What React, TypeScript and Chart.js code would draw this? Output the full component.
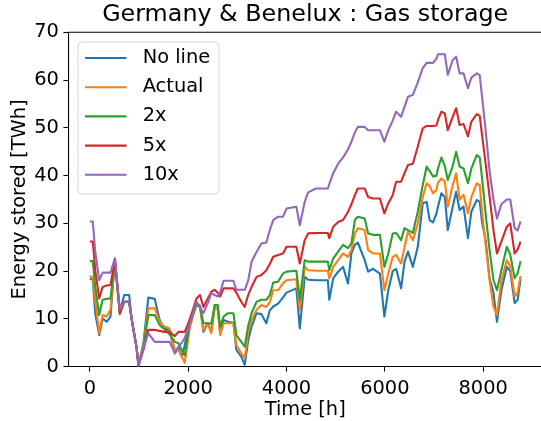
import React, { useEffect, useRef } from 'react';
import { Chart, registerables } from 'chart.js';

Chart.register(...registerables);

const chartTitle = 'Germany & Benelux : Gas storage';
const xAxisLabel = 'Time [h]';
const yAxisLabel = 'Energy stored [TWh]';
const seriesNames = ['No line', 'Actual', '2x', '5x', '10x'];
const seriesColors = ['#1f77b4', '#ff7f0e', '#2ca02c', '#d62728', '#9467bd'];
const xTickValues = [0, 2000, 4000, 6000, 8000];
const yTickValues = [0, 10, 20, 30, 40, 50, 60, 70];

const hours = [
  0, 60, 110, 190, 260, 340, 420, 510, 610, 700,
  800, 850, 950, 990, 1090, 1190, 1320, 1420, 1500, 1620,
  1730, 1800, 1870, 1930, 2030, 2170, 2240, 2310, 2400, 2470,
  2540, 2600, 2650, 2720, 2810, 2920, 2980,
  3080, 3150, 3220, 3290, 3390, 3490, 3590, 3660, 3730, 3830,
  3930, 4000, 4200, 4270, 4370, 4440, 4600, 4840, 4870, 4950,
  5050, 5150, 5250, 5320, 5390, 5450, 5590, 5660, 5760, 5900,
  5990,
  6070, 6160, 6230, 6330, 6400, 6470, 6570, 6670, 6770, 6850,
  6910, 6980, 7050, 7080, 7150, 7220, 7280, 7380, 7450, 7520,
  7600, 7690, 7760, 7870, 7930, 7980, 8050, 8130, 8210, 8280,
  8370, 8480, 8550, 8640, 8700, 8760,
];

const noLine = [
  18.4, 18.2, 11.2, 6.6, 10.1, 9.4, 10.5, 22.5, 11.5, 15,
  15, 10, 4.2, 0.2, 4.9, 14.5, 14.2, 9.8, 8.1, 7.7,
  2.8, 4.0, 2.1, 4.5, 9.8, 13.3, 12.8, 7.3, 9.1, 7.3,
  12.9, 12.9, 7.0, 9.8, 9.4, 9.2, 3.5,
  2.1, 0.4, 5.5, 8.4, 11.2, 11.0, 9.1, 11.8, 12.6, 13.2,
  14.5, 15.5, 16.4, 8.0, 18.8, 18.2, 18.1, 18.1, 14.0, 18.5,
  19.9, 20.9, 17.4, 23.7, 25.5, 26.0, 22.3, 19.9, 20.5, 19.5,
  10.5,
  16.0, 20.0, 20.5, 16.4, 22.0, 24.1, 20.9, 25.1, 34.2, 34.5,
  30.7, 30.2, 32.1, 33.5, 36.3, 35.5, 28.6, 33.5, 36.6, 32.8,
  33.5, 26.9, 32.5, 34.9, 34.5, 30.0, 26.5, 18.5, 15.4, 9.4,
  16.0, 20.9, 20.0, 13.3, 14.0, 18.3,
];

const actual = [
  19.0, 18.7, 14.0, 7.0, 10.8, 10.5, 11.9, 22.3, 11.5, 13.6,
  13.6, 10.0, 4.0, 0.3, 4.5, 12.2, 12.2, 9.5, 8.5, 8.0,
  3.5, 3.5, 2.1, 0.8, 8.0, 13.3, 12.5, 7.7, 9.1, 7.0,
  12.2, 12.2, 6.6, 9.1, 9.1, 9.1, 4.5,
  2.8, 1.8, 7.0, 9.8, 11.9, 12.9, 12.5, 13.5, 16.0, 16.0,
  17.5, 18.1, 18.3, 11.9, 20.9, 20.2, 20.1, 20.1, 18.5, 20.9,
  22.3, 23.7, 23.0, 24.4, 27.9, 29.0, 28.6, 24.4, 23.7, 23.7,
  16.0,
  19.5, 23.0, 23.4, 21.6, 25.0, 28.3, 26.5, 30.0, 35.5, 38.4,
  37.8, 36.3, 37.0, 38.5, 39.4, 38.8, 33.5, 38.0, 40.5, 34.9,
  36.0, 32.1, 35.5, 38.4, 38.0, 32.1, 25.5, 18.1, 12.6, 10.8,
  18.1, 22.3, 21.0, 14.7, 15.5, 19.0,
];

const twoX = [
  22.1, 22.1, 16.7, 10.8, 14.0, 14.2, 14.3, 22.0, 11.0, 13.6,
  13.6, 10.0, 4.0, 0.3, 4.0, 10.8, 10.8, 8.7, 8.0, 6.8,
  5.2, 4.9, 3.5, 2.4, 9.0, 12.9, 12.5, 9.1, 9.1, 9.0,
  12.9, 12.9, 8.4, 10.5, 11.2, 11.2, 6.6,
  5.2, 4.2, 8.5, 11.2, 13.6, 14.0, 14.0, 15.0, 17.6, 17.8,
  19.5, 19.9, 20.1, 14.0, 22.3, 22.0, 22.0, 22.0, 20.2, 22.7,
  24.1, 25.5, 24.8, 25.8, 30.7, 31.4, 31.0, 27.9, 27.6, 27.6,
  20.9,
  23.7, 27.9, 28.0, 26.5, 29.0, 28.6, 28.0, 32.5, 38.0, 41.9,
  41.0, 39.8, 40.0, 41.5, 43.8, 42.0, 39.1, 42.0, 45.0, 41.9,
  41.5, 38.4, 41.5, 44.3, 43.8, 39.1, 32.0, 24.4, 18.1, 16.0,
  20.2, 25.1, 23.5, 18.5, 19.5, 22.1,
];

const fiveX = [
  26.2, 26.2, 20.2, 14.3, 16.7, 17.0, 17.1, 22.3, 11.2, 13.6,
  13.6, 10.0, 4.0, 0.3, 3.5, 7.7, 7.7, 7.5, 7.3, 7.3,
  6.4, 7.3, 7.3, 7.3, 9.8, 14.3, 15.0, 12.5, 14.3, 15.7,
  16.1, 15.5, 14.7, 16.4, 16.4, 16.4, 15.5,
  13.6, 12.5, 15.0, 16.7, 18.8, 19.2, 20.2, 21.5, 23.0, 23.4,
  23.7, 25.1, 25.1, 21.6, 26.5, 27.9, 28.0, 28.0, 26.9, 29.3,
  30.3, 30.7, 32.4, 34.0, 35.9, 37.3, 37.3, 35.5, 35.2, 35.2,
  32.1,
  34.2, 35.9, 38.7, 38.7, 40.5, 42.2, 42.5, 46.1, 49.9, 50.4,
  50.4, 50.4, 50.5, 51.6, 53.4, 53.0, 49.5, 52.3, 54.1, 50.6,
  50.8, 48.2, 51.3, 52.9, 52.5, 48.2, 42.5, 35.6, 28.5, 23.7,
  26.2, 29.3, 30.0, 23.7, 24.5, 26.2,
];

const tenX = [
  30.4, 30.4, 24.1, 18.1, 19.7, 19.7, 19.7, 22.7, 12.0, 13.6,
  13.6, 10.0, 4.0, 0.2, 4.0, 7.0, 5.2, 5.2, 5.2, 5.2,
  2.8, 4.2, 5.0, 6.0, 9.0, 13.6, 12.5, 11.2, 13.3, 15.4,
  15.0, 14.7, 15.5, 18.0, 18.0, 18.0, 16.1,
  16.1, 16.1, 18.0, 22.0, 24.0, 25.8, 26.0, 28.6, 30.7, 31.4,
  31.4, 33.1, 33.5, 29.6, 34.5, 36.5, 37.3, 37.3, 38.2, 40.5,
  42.5, 43.8, 45.5, 47.1, 49.0, 50.2, 50.2, 49.5, 49.5, 49.5,
  47.1,
  49.5, 51.5, 53.4, 52.3, 54.4, 56.5, 56.9, 59.5, 62.5, 63.6,
  63.6, 63.6, 64.5, 65.4, 65.4, 65.4, 61.1, 64.2, 64.9, 61.4,
  61.4, 58.3, 60.5, 61.4, 61.0, 56.2, 49.5, 41.0, 35.0, 31.0,
  34.0, 35.0, 35.0, 29.0, 28.5, 30.4,
];

const seriesValues = [noLine, actual, twoX, fiveX, tenX];

const FONT = "'DejaVu Sans', 'Liberation Sans', sans-serif";
const TICK_SIZE = 19.4;
const TITLE_SIZE = 23.8;

const CANVAS_W = 560;
const CANVAS_H = 421;

const framePlugin = {
  id: 'mplFrame',
  afterDatasetsDraw(chart: any) {
    const { ctx, chartArea: a } = chart;
    ctx.save();
    // top and right spines
    ctx.strokeStyle = '#000';
    ctx.lineWidth = 1.1;
    ctx.beginPath();
    ctx.moveTo(a.left, a.top);
    ctx.lineTo(a.right, a.top);
    ctx.lineTo(a.right, a.bottom);
    ctx.stroke();

    // legend box (matplotlib style)
    const bx = a.left + 9.7;
    const by = a.top + 9.7;
    const bw = 141;
    const bh = 152;
    const r = 4;
    ctx.beginPath();
    ctx.moveTo(bx + r, by);
    ctx.lineTo(bx + bw - r, by);
    ctx.arcTo(bx + bw, by, bx + bw, by + r, r);
    ctx.lineTo(bx + bw, by + bh - r);
    ctx.arcTo(bx + bw, by + bh, bx + bw - r, by + bh, r);
    ctx.lineTo(bx + r, by + bh);
    ctx.arcTo(bx, by + bh, bx, by + bh - r, r);
    ctx.lineTo(bx, by + r);
    ctx.arcTo(bx, by, bx + r, by, r);
    ctx.closePath();
    ctx.fillStyle = 'rgba(255,255,255,0.8)';
    ctx.fill();
    ctx.strokeStyle = 'rgba(204,204,204,0.8)';
    ctx.lineWidth = 1;
    ctx.stroke();

    ctx.font = `${TICK_SIZE}px ${FONT}`;
    ctx.textBaseline = 'middle';
    ctx.textAlign = 'left';
    seriesNames.forEach((name, i) => {
      const y = by + 16 + i * 29.2;
      ctx.strokeStyle = seriesColors[i];
      ctx.lineWidth = 2.1;
      ctx.beginPath();
      ctx.moveTo(bx + 7, y);
      ctx.lineTo(bx + 48.5, y);
      ctx.stroke();
      ctx.fillStyle = '#000';
      ctx.fillText(name, bx + 64.7, y);
    });
    ctx.restore();
  },
};

export default function App() {
  const canvasRef = useRef<HTMLCanvasElement | null>(null);

  useEffect(() => {
    const canvas = canvasRef.current;
    if (!canvas) return;
    const datasets = seriesNames.map((name, i) => ({
      label: name,
      data: hours.map((h, j) => ({ x: h, y: seriesValues[i][j] })),
      borderColor: seriesColors[i],
      backgroundColor: seriesColors[i],
      borderWidth: 2.1,
      pointRadius: 0,
      tension: 0,
      fill: false,
      borderJoinStyle: 'round' as const,
      order: seriesNames.length - 1 - i,
    }));

    const chart = new Chart(canvas, {
      type: 'line',
      data: { datasets },
      options: {
        animation: false,
        responsive: false,
        devicePixelRatio: 1,
        layout: { padding: { left: 0, right: CANVAS_W - 542.1, top: 0, bottom: 0 } },
        plugins: {
          legend: { display: false },
          tooltip: { enabled: false },
          title: {
            display: true,
            text: chartTitle,
            color: '#000',
            fullSize: false,
            font: { family: FONT, size: TITLE_SIZE, weight: 'normal', lineHeight: 1 },
            padding: { top: 3, bottom: 5.5 },
          },
        },
        scales: {
          x: {
            type: 'linear',
            min: -438,
            max: 9198,
            afterBuildTicks: (scale: any) => {
              scale.ticks = xTickValues.map((v) => ({ value: v }));
            },
            afterFit: (scale: any) => {
              scale.height = 54.3;
            },
            grid: {
              drawOnChartArea: false,
              drawTicks: true,
              tickLength: 4.9,
              tickColor: '#000',
              tickWidth: 1.1,
              color: '#000',
            },
            border: { display: true, color: '#000', width: 1.1 },
            ticks: {
              color: '#000',
              padding: 6,
              maxRotation: 0,
              autoSkip: false,
              font: { family: FONT, size: TICK_SIZE, lineHeight: 1.2 },
              callback: (v: any) => String(v),
            },
            title: {
              display: true,
              text: xAxisLabel,
              color: '#000',
              font: { family: FONT, size: TICK_SIZE, lineHeight: 1.1 },
              padding: { top: 0, bottom: 0 },
            },
          },
          y: {
            type: 'linear',
            min: 0,
            max: 70,
            afterBuildTicks: (scale: any) => {
              scale.ticks = yTickValues.map((v) => ({ value: v }));
            },
            afterFit: (scale: any) => {
              scale.width = 68.3;
            },
            grid: {
              drawOnChartArea: false,
              drawTicks: true,
              tickLength: 4.9,
              tickColor: '#000',
              tickWidth: 1.1,
              color: '#000',
            },
            border: { display: true, color: '#000', width: 1.1 },
            ticks: {
              color: '#000',
              padding: 4.5,
              autoSkip: false,
              font: { family: FONT, size: TICK_SIZE, lineHeight: 1.2 },
              callback: (v: any) => String(v),
            },
            title: {
              display: true,
              text: yAxisLabel,
              color: '#000',
              font: { family: FONT, size: TICK_SIZE, lineHeight: 1.2 },
              padding: { top: 8.7, bottom: 0 },
            },
          },
        },
      },
      plugins: [framePlugin],
    });
    return () => chart.destroy();
  }, []);

  return (
    <div
      style={{
        position: 'fixed',
        left: 0,
        top: 0,
        width: 541,
        height: 421,
        overflow: 'hidden',
        background: '#fff',
      }}
    >
      <canvas
        ref={canvasRef}
        width={CANVAS_W}
        height={CANVAS_H}
        style={{ display: 'block', width: CANVAS_W, height: CANVAS_H }}
      />
    </div>
  );
}
